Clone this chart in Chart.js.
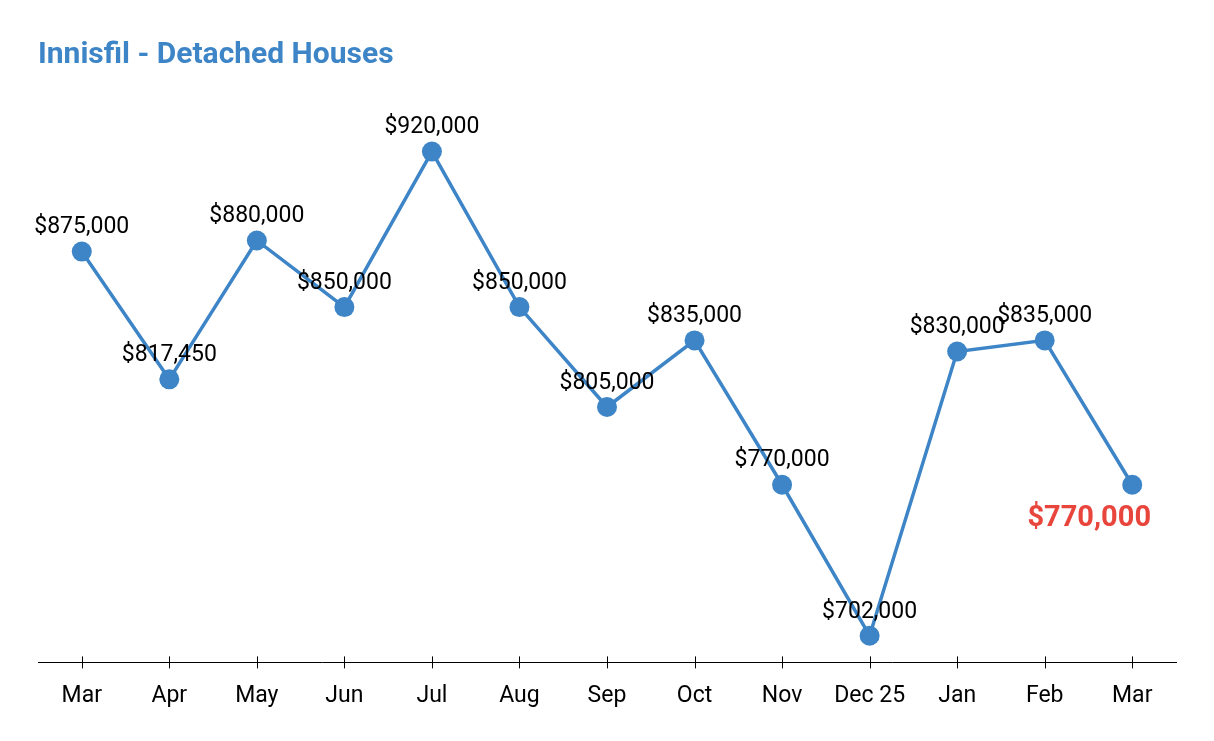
<!DOCTYPE html>
<html>
<head>
<meta charset="utf-8">
<script src="https://cdn.jsdelivr.net/npm/chart.js@4/dist/chart.umd.min.js"></script>
<style>
  html, body { margin: 0; padding: 0; background: #fff; }
  #wrap { width: 1214px; height: 741px; }
</style>
</head>
<body>
<div id="wrap"><canvas id="price-chart"></canvas></div>
<script>
const months = ["Mar", "Apr", "May", "Jun", "Jul", "Aug", "Sep", "Oct", "Nov", "Dec 25", "Jan", "Feb", "Mar"];
const prices = [875000, 817450, 880000, 850000, 920000, 850000, 805000, 835000, 770000, 702000, 830000, 835000, 770000];

const blue = "#3d85c6";
const red = "#e8453c";

const fmt = (v) => "$" + v.toLocaleString("en-US");

const priceLabels = {
  id: "priceLabels",
  afterDatasetsDraw: (chart) => {
    const ctx = chart.ctx;
    const points = chart.getDatasetMeta(0).data;
    ctx.save();
    ctx.textAlign = "center";
    ctx.textBaseline = "middle";
    points.forEach((pt, i) => {
      if (i === points.length - 1) {
        ctx.font = "bold 29px Roboto";
        ctx.fillStyle = red;
        ctx.fillText(fmt(prices[i]), pt.x - 43, pt.y + 34);
      } else {
        ctx.font = "23px Roboto";
        ctx.fillStyle = "#000";
        ctx.fillText(fmt(prices[i]), pt.x, pt.y - 24);
      }
    });
    ctx.restore();
  },
};

// tick marks crossing the axis line
const crossTicks = {
  id: "crossTicks",
  afterDraw: (chart) => {
    const ctx = chart.ctx;
    const x = chart.scales.x;
    const y0 = chart.chartArea.bottom;
    ctx.save();
    ctx.strokeStyle = "#000";
    ctx.lineWidth = 1;
    x.ticks.forEach((t, i) => {
      const px = Math.round(x.getPixelForTick(i)) + 0.5;
      ctx.beginPath();
      ctx.moveTo(px, y0 - 6);
      ctx.lineTo(px, y0 + 6);
      ctx.stroke();
    });
    ctx.restore();
  },
};

new Chart(document.getElementById("price-chart").getContext("2d"), {
  type: "line",
  data: {
    labels: months,
    datasets: [
      {
        data: prices,
        borderColor: blue,
        backgroundColor: blue,
        borderWidth: 3.5,
        tension: 0,
        pointRadius: 10,
        pointHoverRadius: 10,
        pointBorderWidth: 0,
        pointBackgroundColor: blue,
      },
    ],
  },
  options: {
    responsive: true,
    maintainAspectRatio: false,
    animation: false,
    layout: {
      padding: { left: 38, right: 38, top: 37, bottom: 11 },
    },
    scales: {
      x: {
        offset: true,
        grid: { display: false, drawTicks: false },
        border: { display: true, color: "#000", width: 1 },
        ticks: {
          color: "#000",
          font: { family: "Roboto", size: 23 },
          padding: 20,
          maxRotation: 0,
          autoSkip: false,
        },
      },
      y: {
        display: false,
        min: 690000,
        max: 950000,
      },
    },
    plugins: {
      legend: { display: false },
      tooltip: { enabled: false },
      title: {
        display: true,
        text: "Innisfil - Detached Houses",
        align: "start",
        color: blue,
        font: { family: "Roboto", size: 30, weight: "bold" },
        padding: { top: 0, bottom: 12 },
      },
    },
  },
  plugins: [priceLabels, crossTicks],
});
</script>
</body>
</html>
